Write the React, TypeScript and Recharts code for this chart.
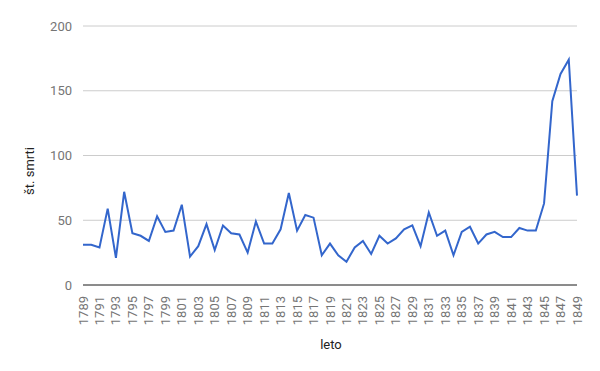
import { CartesianGrid, Line, LineChart, XAxis, YAxis } from "recharts";

const YEARS = Array.from({ length: 61 }, (_, i) => String(1789 + i));

const DEATHS = [
  31, 31, 29, 59, 21, 72, 40, 38, 34, 53, 41, 42, 62, 22, 30, 47, 27, 46, 40, 39, 25,
  49, 32, 32, 43, 71, 42, 54, 52, 23, 32, 23, 18, 29, 34, 24, 38, 32, 36, 43, 46, 30,
  56, 38, 42, 23, 41, 45, 32, 39, 41, 37, 37, 44, 42, 42, 63, 142, 163, 174, 69,
];

const Y_TICKS = [0, 50, 100, 150, 200];

const data = YEARS.map((year, i) => ({ year, deaths: DEATHS[i] }));

const FONT = "Roboto, Arial, sans-serif";

function YearTick({ x, y, payload }: any) {
  return (
    <text
      x={0}
      y={0}
      transform={`translate(${x},${y + 3}) rotate(-90)`}
      textAnchor="end"
      dominantBaseline="central"
      fontSize={13}
      fontFamily={FONT}
      fill="#757575"
    >
      {payload.value}
    </text>
  );
}

export default function App() {
  return (
    <div style={{ margin: -8, width: 600, height: 371, background: "#fff" }}>
      <LineChart
        width={600}
        height={371}
        data={data}
        margin={{ top: 26, right: 23, bottom: 0, left: 0 }}
      >
        <CartesianGrid vertical={false} stroke="#cccccc" />
        <XAxis
          dataKey="year"
          interval={1}
          height={86}
          tickLine={false}
          axisLine={{ stroke: "#333333" }}
          tick={<YearTick />}
          label={{
            content: () => (
              <text
                x={331}
                y={349}
                textAnchor="middle"
                fontSize={13}
                fontFamily={FONT}
                fill="#222222"
              >
                leto
              </text>
            ),
          }}
        />
        <YAxis
          width={83}
          domain={[0, 200]}
          ticks={Y_TICKS}
          tickLine={false}
          axisLine={false}
          tickSize={0}
          tickMargin={11}
          tick={{ fontSize: 13, fontFamily: FONT, fill: "#757575" }}
          label={{
            content: () => (
              <text
                x={0}
                y={0}
                transform="translate(34,171) rotate(-90)"
                textAnchor="middle"
                fontSize={13}
                fontFamily={FONT}
                fill="#222222"
              >
                št. smrti
              </text>
            ),
          }}
        />
        <Line
          type="linear"
          dataKey="deaths"
          stroke="#3366cc"
          strokeWidth={2}
          dot={false}
          activeDot={false}
          isAnimationActive={false}
        />
      </LineChart>
    </div>
  );
}
